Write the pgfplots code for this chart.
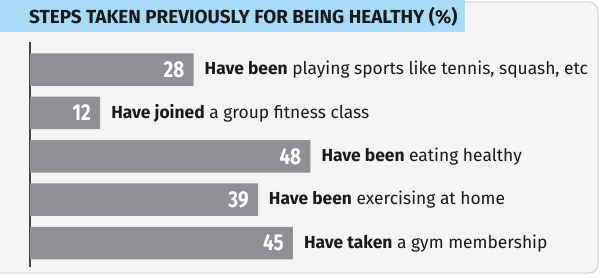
\documentclass[border=0pt]{standalone}
\usepackage{pgfplots}
\usepackage{pgfplotstable}
\pgfplotsset{compat=1.18}
\usepackage{fontspec}
\setmainfont{Fira Sans}
\newfontfamily\condfont{Fira Sans}[FakeStretch=0.82]
\newfontfamily\titlefont{Fira Sans}
\definecolor{bgc}{HTML}{F4F4F4}
\definecolor{bannerc}{HTML}{A8DCF6}
\definecolor{barc}{HTML}{8E9093}
\definecolor{borderc}{HTML}{CFCFCF}
\definecolor{axisc}{HTML}{444444}
\definecolor{txtc}{HTML}{1A1A1A}

\pgfplotstableread[col sep=semicolon]{
val;pos;label
28;1;{\textbf{Have been} playing sports like tennis, squash, etc}
12;2;{\textbf{Have joined} a group fitness class}
48;3;{\textbf{Have been} eating healthy}
39;4;{\textbf{Have been} exercising at home}
45;5;{\textbf{Have taken} a gym membership}
}\datatable

\begin{document}
\begin{tikzpicture}[x=1bp,y=1bp]
\useasboundingbox (0,0) rectangle (600,277);
\path[fill=white] (0,0) rectangle (600,277);
\begin{scope}
\clip (0,0) rectangle (600,277);
\draw[draw=borderc, line width=1bp, fill=bgc, rounded corners=9bp] (-10,4) rectangle (598,275);
\end{scope}
\fill[bannerc] (0,245) rectangle (465,277);
\node[anchor=base west, inner sep=0pt, text=txtc] at (29,254)
  {\titlefont\bfseries\fontsize{18.9bp}{20bp}\selectfont STEPS TAKEN PREVIOUSLY FOR BEING HEALTHY (\%)};
\begin{axis}[
  at={(30bp,10bp)}, anchor=south west,
  scale only axis, width=570bp, height=225bp,
  xmin=0, xmax=97.6,
  ymin=0.366, ymax=5.55, y dir=reverse,
  xbar, bar width=32.5bp, bar shift=0pt,
  axis x line=none,
  axis y line*=left,
  y axis line style={draw=axisc, line width=1.1bp, -},
  ytick=\empty, xtick=\empty,
  clip=false,
  /pgf/number format/assume math mode=true,
]
\addplot[fill=barc, draw=none, point meta=x,
  nodes near coords={\condfont\bfseries\fontsize{23bp}{25bp}\selectfont\pgfmathprintnumber{\pgfplotspointmeta}},
  every node near coord/.append style={anchor=east, inner sep=0pt, xshift=-9bp, text=white},
] table[x=val, y=pos] {\datatable};
\addplot[fill=none, draw=none, point meta=explicit symbolic,
  nodes near coords={\fontsize{17.4bp}{19bp}\selectfont\pgfplotspointmeta},
  every node near coord/.append style={anchor=west, inner sep=0pt, xshift=11bp, text=txtc},
] table[x=val, y=pos, meta=label] {\datatable};
\end{axis}
\end{tikzpicture}
\end{document}
